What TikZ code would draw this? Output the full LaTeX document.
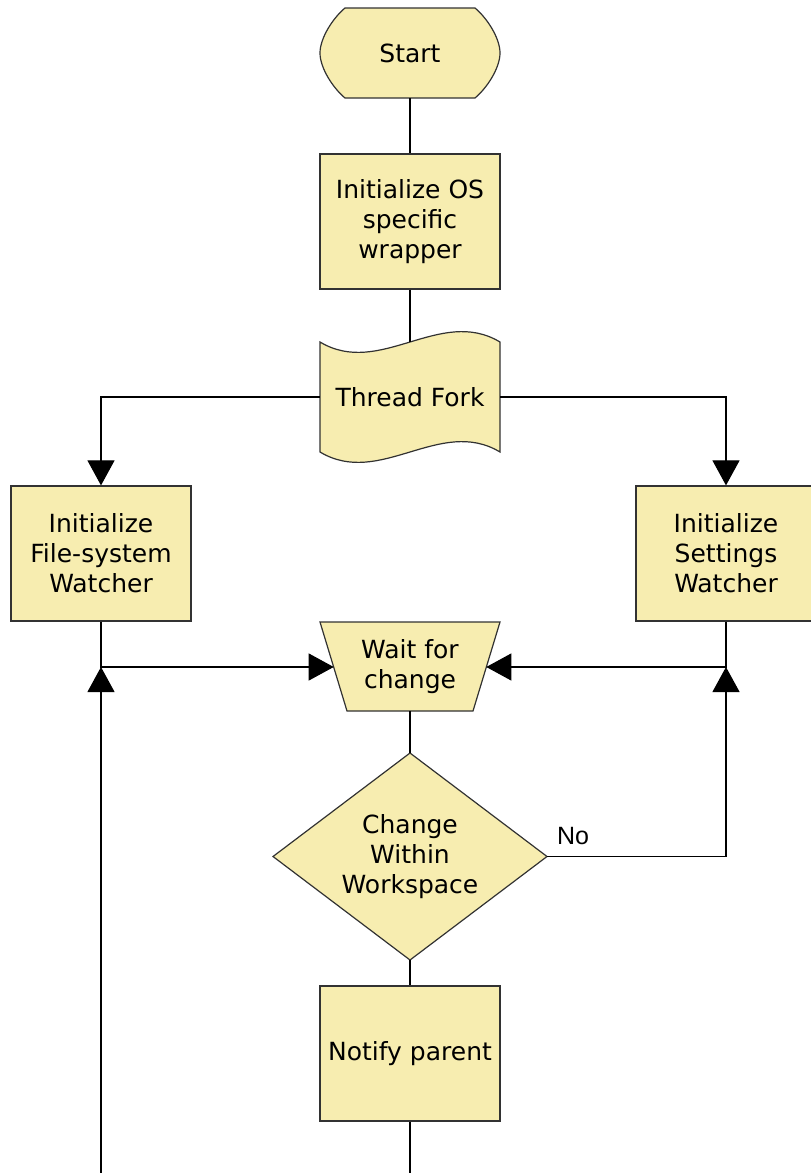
\documentclass[tikz,border=0pt]{standalone}
\usepackage{fontspec}
\setmainfont{DejaVu Sans}
\newfontfamily\labelfont{Liberation Sans}
\usetikzlibrary{arrows.meta}
\definecolor{shapefill}{RGB}{247,237,176}
\definecolor{shapeline}{RGB}{50,50,50}
\tikzset{
  shapestyle/.style={fill=shapefill, draw=shapeline, line width=1.2pt},
  box/.style={shapestyle, rectangle, minimum width=180pt, minimum height=135pt, inner sep=0pt, align=center, font=\fontsize{25}{30}\selectfont},
  txt/.style={rectangle, inner sep=0pt, align=center, font=\fontsize{25}{30}\selectfont},
  conn/.style={draw=black, line width=1.1pt},
  arr/.style={conn, -{Triangle[length=25pt, width=27pt]}},
}
\begin{document}
\begin{tikzpicture}[x=1pt, y=-1pt]
\useasboundingbox (0,0) rectangle (811,1173);
\clip (0,0) rectangle (811,1173);
% Start shape
\draw[shapestyle] (345,8) -- (475,8) .. controls (487,18) and (500,38) .. (500,53)
  .. controls (500,68) and (487,88) .. (475,98) -- (345,98)
  .. controls (333,88) and (320,68) .. (320,53)
  .. controls (320,38) and (333,18) .. (345,8) -- cycle;
\node[txt, minimum width=180pt, minimum height=90pt] (start) at (410,53) {Start};
% OS wrapper
\node[box] (os) at (410,221.5) {Initialize OS\\specific\\wrapper};
% Thread fork
\draw[shapestyle] (320,342) .. controls (380,378) and (440,306) .. (500,342) -- (500,452)
  .. controls (440,416) and (380,488) .. (320,452) -- cycle;
\coordinate (forktop) at (410,342);
\node[txt, minimum width=180pt, minimum height=110pt] (fork) at (410,397) {Thread Fork};
% Watchers
\node[box] (fs) at (101,553.5) {Initialize\\File-system\\Watcher};
\node[box] (sw) at (726,553.5) {Initialize\\Settings\\Watcher};
% Wait for change
\draw[shapestyle] (320,622) -- (500,622) -- (473,711) -- (347,711) -- cycle;
\node[txt] (wait) at (410,667) {Wait for\\change};
\coordinate (waitL) at (333.7,667);
\coordinate (waitR) at (486.3,667);
\coordinate (waitB) at (410,711);
% Decision
\coordinate (chgN) at (410,753);
\coordinate (chgE) at (547,856.5);
\coordinate (chgS) at (410,960);
\coordinate (chgW) at (273,856.5);
\draw[shapestyle] (chgN) -- (chgE) -- (chgS) -- (chgW) -- cycle;
\node[txt] (chg) at (410,856.5) {Change\\Within\\Workspace};
% Notify
\node[box] (np) at (410,1053.5) {Notify parent};
\coordinate (below) at (410,1200);
% connectors
\draw[conn] (start.south) -- (os.north);
\draw[conn] (os.south) -- (forktop);
\draw[arr] (fork.west) -| (fs.north);
\draw[arr] (fork.east) -| (sw.north);
\draw[arr] (fs.south) |- (waitL);
\draw[arr] (sw.south) |- (waitR);
\draw[conn] (waitB) -- (chgN);
\draw[arr] (chgE) -| (sw.south |- waitR);
\node[font=\labelfont\fontsize{25}{30}\selectfont, inner sep=0pt] (no) at (573,836) {No};
\draw[conn] (chgS) -- (np.north);
\draw[arr] (np.south) -- (below) -| (fs.south |- waitL);
\end{tikzpicture}
\end{document}
